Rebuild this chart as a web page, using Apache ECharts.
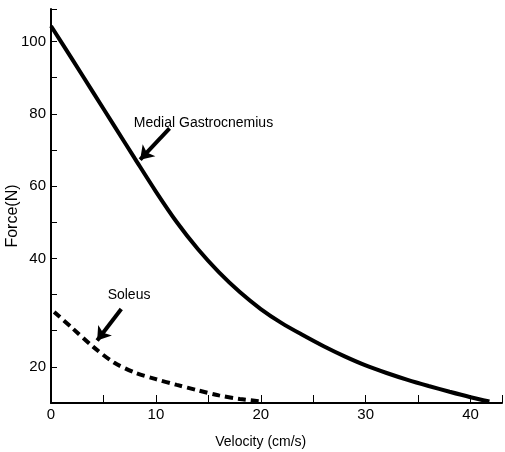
<!DOCTYPE html>
<html>
<head>
<meta charset="utf-8">
<script src="https://cdn.jsdelivr.net/npm/echarts@6/dist/echarts.min.js"></script>
<style>html,body{margin:0;padding:0;background:#fff}#c{width:505px;height:452px}</style>
</head>
<body>
<div id="c"></div>
<script>
// Data (x: velocity cm/s, y: plot units as drawn on the axis)
const medialX = [0, 2, 4, 6, 8, 10, 12, 14, 16, 18, 20, 22, 24, 26, 28, 30, 32, 34, 36, 38, 40, 41.8];
const medialY = [104.3, 95.2, 86.0, 76.8, 67.6, 58.5, 50.0, 42.6, 36.2, 30.7, 26.0, 22.1, 18.8, 15.7, 12.9, 10.4, 8.3, 6.4, 4.7, 3.1, 1.6, 0.4];
const soleusX = [0.3, 2, 4, 6, 8, 10, 12, 14, 16, 18, 19.8];
const soleusY = [25.2, 20.8, 15.6, 11.2, 8.4, 6.6, 5.0, 3.5, 2.1, 1.1, 0.5];
const xTickLabels = [0, 10, 20, 30, 40];
const yTickValues = [10, 40, 60, 80, 100];
const yTickLabels = ['20', '40', '60', '80', '100'];
const annotations = [
  { text: 'Medial Gastrocnemius', at: [7.9, 77.7], arrowFrom: [11.3, 76.0], arrowTo: [8.5, 67.3] },
  { text: 'Soleus', at: [5.4, 30.1], arrowFrom: [6.7, 26.0], arrowTo: [4.4, 17.3] }
];

const font = 'Liberation Sans, Arial, sans-serif';
const chart = echarts.init(document.getElementById('c'), null, { renderer: 'canvas' });

const option = {
  animation: false,
  backgroundColor: '#fff',
  grid: { left: 51, right: 0, top: 9, bottom: 49, containLabel: false },
  xAxis: {
    type: 'value', min: 0, max: 43, interval: 5,
    axisLine: { show: true, onZero: false, lineStyle: { color: '#000', width: 2 } },
    axisTick: { show: true, inside: true, length: 8, lineStyle: { color: '#000', width: 1 } },
    splitLine: { show: false },
    axisLabel: {
      color: '#000', fontFamily: font, fontSize: 15, margin: 4,
      formatter: v => xTickLabels.indexOf(v) >= 0 ? String(v) : ''
    }
  },
  yAxis: {
    type: 'value', min: 0, max: 109, interval: 10,
    axisLine: { show: true, onZero: false, lineStyle: { color: '#000', width: 2 } },
    axisTick: { show: true, inside: true, length: 6, lineStyle: { color: '#000', width: 1 } },
    splitLine: { show: false },
    axisLabel: {
      color: '#000', fontFamily: font, fontSize: 15, margin: 5,
      formatter: v => { const i = yTickValues.indexOf(v); return i >= 0 ? yTickLabels[i] : ''; }
    }
  },
  series: [
    {
      name: 'Medial Gastrocnemius', type: 'line', smooth: 0.3, symbol: 'none',
      data: medialX.map((x, i) => [x, medialY[i]]),
      lineStyle: { color: '#000', width: 4 },
      markLine: {
        silent: true, symbol: ['none', 'arrow'], symbolSize: [13, 13],
        label: { show: false },
        lineStyle: { color: '#000', width: 4, type: 'solid' },
        data: annotations.map(a => [{ coord: a.arrowFrom }, { coord: a.arrowTo }])
      }
    },
    {
      name: 'Soleus', type: 'line', smooth: 0.3, symbol: 'none',
      data: soleusX.map((x, i) => [x, soleusY[i]]),
      lineStyle: { color: '#000', width: 4, type: [8, 5] }
    }
  ]
};
chart.setOption(option);

const graphics = annotations.map(a => {
  const p = chart.convertToPixel({ gridIndex: 0 }, a.at);
  return {
    type: 'text', left: p[0], top: p[1] - 6,
    style: { text: a.text, fill: '#000', font: '14px ' + font }
  };
});
const xn = chart.convertToPixel({ gridIndex: 0 }, [20, 0]);
graphics.push({
  type: 'text', x: xn[0], y: 442,
  style: { text: 'Velocity (cm/s)', fill: '#000', font: '14px ' + font, align: 'center', verticalAlign: 'middle' }
});
graphics.push({
  type: 'text', x: 13, y: 216, rotation: Math.PI / 2,
  style: { text: 'Force(N)', fill: '#000', font: '16px ' + font, align: 'center', verticalAlign: 'middle' }
});
chart.setOption({ graphic: graphics });
</script>
</body>
</html>
